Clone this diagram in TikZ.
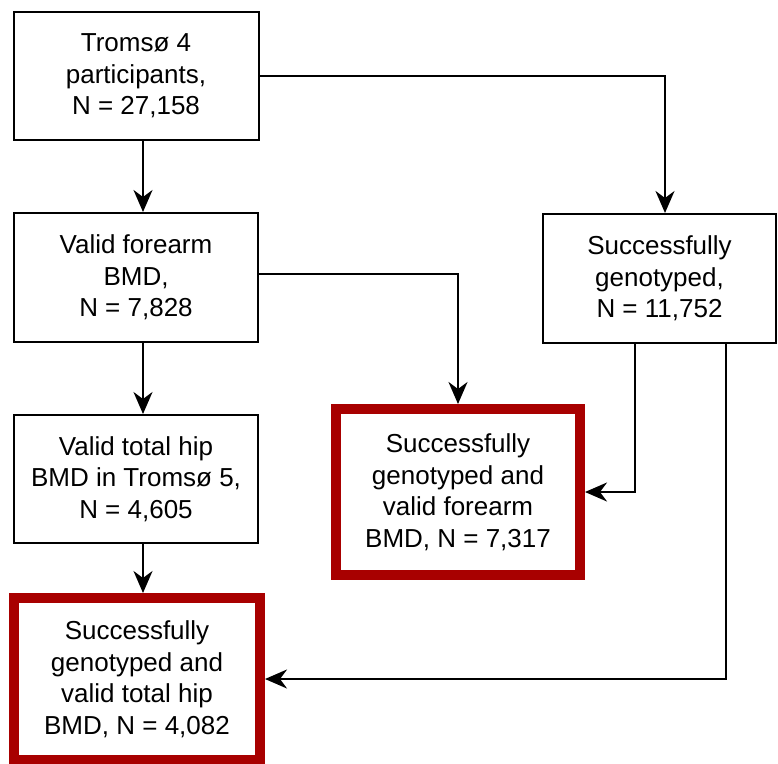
\documentclass[tikz,border=0pt]{standalone}
\usepackage{fontspec}
\setmainfont{Liberation Sans}
\usetikzlibrary{arrows.meta,calc}
\definecolor{boxred}{RGB}{168,0,0}
\begin{document}
\begin{tikzpicture}[x=1pt,y=-1pt,
  box/.style={draw=black,line width=2pt,fill=white,align=center,inner sep=0pt,
    font=\fontsize{26}{31.5}\selectfont},
  redbox/.style={box,draw=boxred,line width=10pt},
  arr/.style={line width=2pt,arrows={-Stealth[length=22pt,width=19pt,inset=7pt]}}]
\useasboundingbox (0,0) rectangle (778,763);
\node[box,minimum width=245pt,minimum height=128pt] (b1) at (136,76)
  {Tromsø 4\\participants,\\N = 27,158};
\node[box,minimum width=244pt,minimum height=129pt] (b2) at (136,277.5)
  {Valid forearm\\BMD,\\N = 7,828};
\node[box,minimum width=244pt,minimum height=128pt] (b3) at (136,479)
  {Valid total hip\\BMD in Tromsø 5,\\N = 4,605};
\node[redbox,minimum width=246pt,minimum height=162pt] (b4) at (137,679)
  {Successfully\\genotyped and\\valid total hip\\BMD, N = 4,082};
\node[box,minimum width=233pt,minimum height=129pt] (b5) at (659.5,278.5)
  {Successfully\\genotyped,\\N = 11,752};
\node[redbox,minimum width=244pt,minimum height=166pt] (b6) at (458,492)
  {Successfully\\genotyped and\\valid forearm\\BMD, N = 7,317};
\coordinate (t5) at ([xshift=5.5pt]b5.north);
\draw[arr] ([xshift=7pt]b1.south) -- ([xshift=7pt]b2.north);
\draw[arr] ([xshift=7pt]b2.south) -- ([xshift=7pt]b3.north);
\draw[arr] ([xshift=7pt]b3.south) -- ([xshift=6pt]b4.north);
\draw[arr] (b1.east) -| (t5);
\draw[arr] ([yshift=3.5pt]b2.east) -| (b6.north);
\draw[arr] ([xshift=-24.5pt]b5.south) |- (b6.east);
\draw[arr] ([xshift=66.5pt]b5.south) |- (b4.east);
\end{tikzpicture}
\end{document}
